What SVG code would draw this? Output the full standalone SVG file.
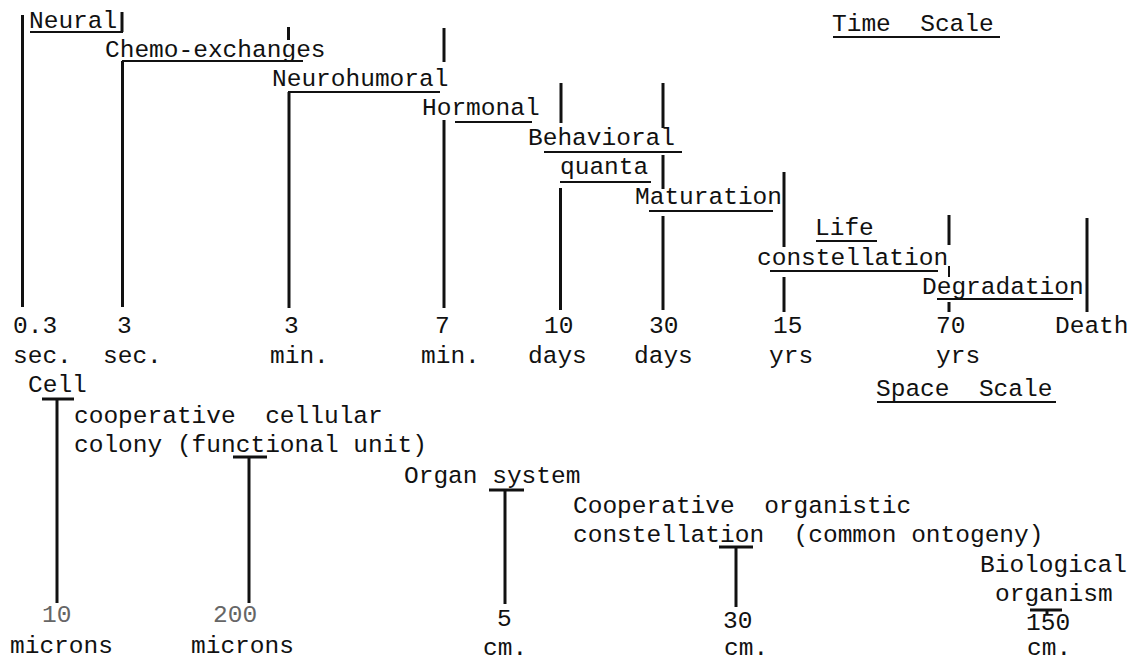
<svg xmlns="http://www.w3.org/2000/svg" width="1134" height="662" viewBox="0 0 1134 662" xml:space="preserve">
<style>
.t{font-family:"Liberation Mono","Courier New",monospace;font-size:24.5px;fill:#111;white-space:pre}
.f{fill:#666}
.u{stroke:#111;stroke-width:2;fill:none}
.v{stroke:#111;stroke-width:3;fill:none}
.d{stroke:#111;stroke-width:2;fill:none}
</style>
<rect width="1134" height="662" fill="#fff"/>

<g id="title-time">
<text class="t" x="832" y="31">Time  Scale</text>
<line class="u" x1="833" y1="37" x2="1000" y2="37"/>
</g>

<g id="connectors">
<line class="v" x1="22.5" y1="15" x2="22.5" y2="307"/>
<line class="v" x1="122" y1="12" x2="122" y2="32"/>
<line class="v" x1="122.5" y1="61" x2="122.5" y2="307"/>
<line class="v" x1="288.5" y1="27" x2="288.5" y2="40"/>
<line class="v" x1="289" y1="92" x2="289" y2="308"/>
<line class="v" x1="444" y1="28" x2="444" y2="62"/>
<line class="v" x1="444" y1="120" x2="444" y2="308"/>
<line class="v" x1="561" y1="83" x2="561" y2="123"/>
<line class="v" x1="560.5" y1="188" x2="560.5" y2="310"/>
<line class="v" x1="663" y1="83" x2="663" y2="128"/>
<line class="v" x1="663" y1="155" x2="663" y2="189"/>
<line class="v" x1="663" y1="216" x2="663" y2="310"/>
<line class="v" x1="784" y1="172" x2="784" y2="247"/>
<line class="v" x1="784" y1="277" x2="784" y2="312"/>
<line class="v" x1="949" y1="215" x2="949" y2="245"/>
<line class="d" x1="949" y1="266" x2="949" y2="277"/>
<line class="v" x1="949" y1="302" x2="949" y2="312"/>
<line class="v" x1="1087" y1="218" x2="1087" y2="312"/>
<line class="v" x1="42" y1="399" x2="74" y2="399"/>
<line class="v" x1="57" y1="399" x2="57" y2="603"/>
<line class="v" x1="233" y1="457" x2="267" y2="457"/>
<line class="v" x1="249" y1="457" x2="249" y2="603"/>
<line class="v" x1="489" y1="490" x2="524" y2="490"/>
<line class="v" x1="505" y1="490" x2="505" y2="604"/>
<line class="v" x1="719" y1="547" x2="753" y2="547"/>
<line class="v" x1="736" y1="547" x2="736" y2="607"/>
<line class="v" x1="1030" y1="610" x2="1062" y2="610"/>
<line class="v" x1="1047" y1="610" x2="1047" y2="614"/>
</g>

<g id="neural">
<text class="t" x="29" y="28">Neural</text>
<line class="u" x1="30" y1="32" x2="123" y2="32"/>
</g>
<g id="chemo-exchanges">
<text class="t" x="105" y="57">Chemo-exchanges</text>
<line class="u" x1="122" y1="61" x2="303" y2="61"/>
</g>
<g id="neurohumoral">
<text class="t" x="272" y="86">Neurohumoral</text>
<line class="u" x1="288" y1="92" x2="440" y2="92"/>
</g>
<g id="hormonal">
<text class="t" x="422" y="115">Hormonal</text>
<line class="u" x1="455" y1="122" x2="532" y2="122"/>
</g>
<g id="behavioral-quanta">
<text class="t" x="528" y="145">Behavioral</text>
<line class="u" x1="544" y1="152" x2="682" y2="152"/>
<text class="t" x="560" y="174">quanta</text>
<line class="u" x1="560" y1="182" x2="651" y2="182"/>
</g>
<g id="maturation">
<text class="t" x="635" y="204">Maturation</text>
<line class="u" x1="649" y1="211" x2="773" y2="211"/>
</g>
<g id="life-constellation">
<text class="t" x="815" y="235">Life</text>
<line class="u" x1="816" y1="241" x2="877" y2="241"/>
<text class="t" x="757" y="265">constellation</text>
<line class="u" x1="770" y1="271" x2="938" y2="271"/>
</g>
<g id="degradation">
<text class="t" x="922" y="294">Degradation</text>
<line class="u" x1="937" y1="299" x2="1073" y2="299"/>
</g>

<g id="time-labels">
<text class="t" x="13" y="333">0.3</text>
<text class="t" x="117" y="333">3</text>
<text class="t" x="284" y="333">3</text>
<text class="t" x="435" y="333">7</text>
<text class="t" x="544" y="333">10</text>
<text class="t" x="649" y="333">30</text>
<text class="t" x="773" y="333">15</text>
<text class="t" x="936" y="333">70</text>
<text class="t" x="1055" y="333">Death</text>
<text class="t" x="13" y="363">sec.</text>
<text class="t" x="103" y="363">sec.</text>
<text class="t" x="270" y="363">min.</text>
<text class="t" x="421" y="363">min.</text>
<text class="t" x="528" y="363">days</text>
<text class="t" x="634" y="363">days</text>
<text class="t" x="769" y="363">yrs</text>
<text class="t" x="936" y="363">yrs</text>
</g>

<g id="title-space">
<text class="t" x="876" y="396">Space  Scale</text>
<line class="u" x1="877" y1="402" x2="1056" y2="402"/>
</g>

<g id="cell">
<text class="t" x="28" y="392">Cell</text>
</g>
<g id="cellular-colony">
<text class="t" x="74" y="423">cooperative  cellular</text>
<text class="t" x="74" y="452">colony (functional unit)</text>
</g>
<g id="organ-system">
<text class="t" x="404" y="483">Organ system</text>
</g>
<g id="organistic-constellation">
<text class="t" x="573" y="513">Cooperative  organistic</text>
<text class="t" x="573" y="542">constellation  (common ontogeny)</text>
</g>
<g id="biological-organism">
<text class="t" x="980" y="572">Biological</text>
<text class="t" x="995" y="601">organism</text>
</g>

<g id="space-labels">
<text class="t f" x="42" y="622">10</text>
<text class="t f" x="213" y="622">200</text>
<text class="t" x="497" y="626">5</text>
<text class="t" x="723" y="628">30</text>
<text class="t" x="1026" y="630">150</text>
<text class="t" x="10" y="653">microns</text>
<text class="t" x="191" y="653">microns</text>
<text class="t" x="483" y="655">cm.</text>
<text class="t" x="724" y="655">cm.</text>
<text class="t" x="1027" y="655">cm.</text>
</g>
</svg>
